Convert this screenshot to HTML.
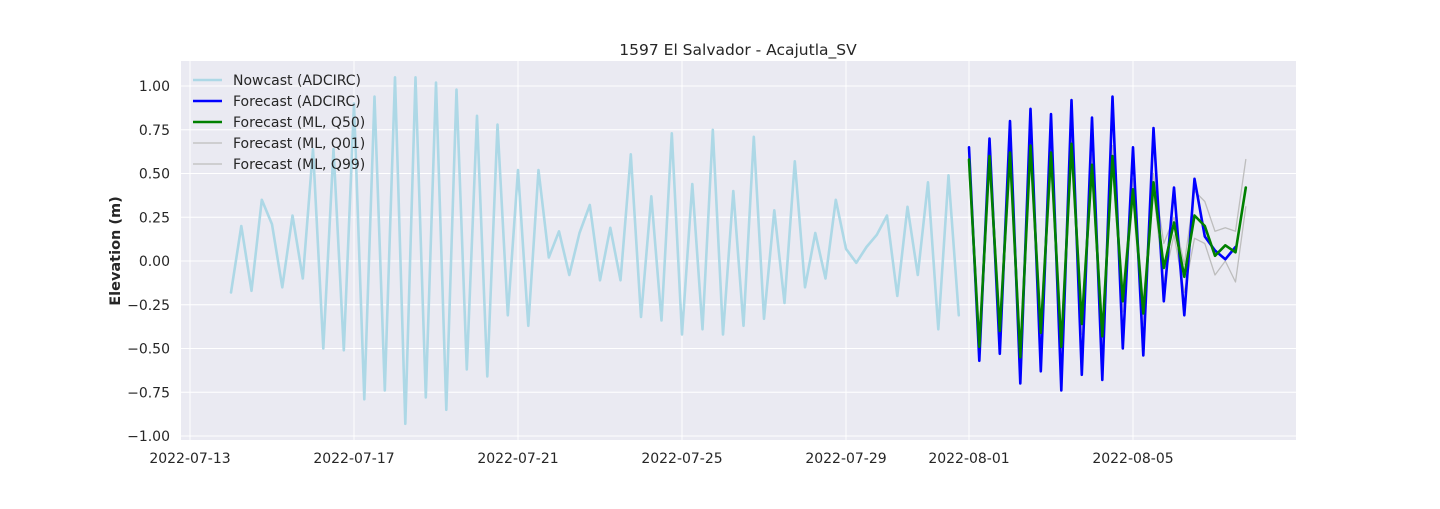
<!DOCTYPE html>
<html><head><meta charset="utf-8"><style>
body{margin:0;background:#fff;}
svg text{font-family:"DejaVu Sans","Liberation Sans",sans-serif;fill:#262626;}
</style></head><body>
<svg id="chart" width="1440" height="504" xmlns="http://www.w3.org/2000/svg">
<rect x="181" y="61" width="1115" height="379" fill="#eaeaf2"/>
<g id="grid"></g><g id="series"></g><g id="ticks"></g>
<text x="738" y="55" font-size="15.5" text-anchor="middle">1597 El Salvador - Acajutla_SV</text>
<text transform="translate(120,251) rotate(-90)" font-size="14.5" font-weight="bold" text-anchor="middle">Elevation (m)</text>
<g id="legend"></g>
</svg>
<script>
const yTicks=[1.0,0.75,0.5,0.25,0.0,-0.25,-0.5,-0.75,-1.0];
const yTickLabels=["1.00","0.75","0.50","0.25","0.00","−0.25","−0.50","−0.75","−1.00"];
const xTickDays=[13,17,21,25,29,32,36];
const xTickLabels=["2022-07-13","2022-07-17","2022-07-21","2022-07-25","2022-07-29","2022-08-01","2022-08-05"];
const nowcastStart=14.0;
const forecastStart=32.0;
const stepDays=0.25;
const nowcast=[-0.18,0.20,-0.17,0.35,0.21,-0.15,0.26,-0.10,0.64,-0.50,0.64,-0.51,0.90,-0.79,0.94,-0.74,1.05,-0.93,1.05,-0.78,1.02,-0.85,0.98,-0.62,0.83,-0.66,0.78,-0.31,0.52,-0.37,0.52,0.02,0.17,-0.08,0.16,0.32,-0.11,0.19,-0.11,0.61,-0.32,0.37,-0.34,0.73,-0.42,0.44,-0.39,0.75,-0.42,0.40,-0.37,0.71,-0.33,0.29,-0.24,0.57,-0.15,0.16,-0.10,0.35,0.07,-0.01,0.08,0.15,0.26,-0.20,0.31,-0.08,0.45,-0.39,0.49,-0.31];
const forecastAdcirc=[0.65,-0.57,0.70,-0.53,0.80,-0.70,0.87,-0.63,0.84,-0.74,0.92,-0.65,0.82,-0.68,0.94,-0.50,0.65,-0.54,0.76,-0.23,0.42,-0.31,0.47,0.14,0.06,0.01,0.08];
const forecastQ50=[0.58,-0.49,0.60,-0.40,0.62,-0.55,0.66,-0.41,0.62,-0.49,0.67,-0.36,0.55,-0.43,0.60,-0.23,0.41,-0.30,0.45,-0.04,0.22,-0.09,0.26,0.20,0.03,0.09,0.05,0.42];
const forecastQ01=[0.52,-0.55,0.54,-0.46,0.56,-0.60,0.60,-0.47,0.56,-0.55,0.61,-0.42,0.49,-0.49,0.54,-0.29,0.35,-0.36,0.40,-0.12,0.15,-0.18,0.13,0.10,-0.08,0.00,-0.12,0.31];
const forecastQ99=[0.63,-0.43,0.66,-0.34,0.68,-0.49,0.72,-0.35,0.68,-0.43,0.73,-0.30,0.61,-0.37,0.66,-0.17,0.47,-0.24,0.50,0.10,0.25,-0.02,0.40,0.34,0.17,0.19,0.17,0.58];

const NS="http://www.w3.org/2000/svg";
const X=d=>190+(d-13)*41;
const Y=v=>261-v*175;
function mk(tag,attrs,parent){const e=document.createElementNS(NS,tag);for(const k in attrs)e.setAttribute(k,attrs[k]);document.getElementById(parent).appendChild(e);return e;}
yTicks.forEach((v,i)=>{
  const l=mk('line',{x1:181,x2:1296,y1:Y(v),y2:Y(v),stroke:'#fff','stroke-width':1},'grid');
  
  
  const t=mk('text',{x:170,y:Y(v)+5,'font-size':14,'text-anchor':'end'},'ticks');
  t.textContent=yTickLabels[i];
  
  
});
xTickDays.forEach((d,i)=>{
  const l=mk('line',{x1:X(d),x2:X(d),y1:61,y2:440,stroke:'#fff','stroke-width':1},'grid');
  
  
  const t=mk('text',{x:X(d),y:463,'font-size':14,'text-anchor':'middle'},'ticks');
  t.textContent=xTickLabels[i];
  
  
});
function line(arr,start,color,w,name){
  const pts=arr.map((v,i)=>X(start+i*stepDays).toFixed(1)+','+Y(v).toFixed(1)).join(' ');
  const p=mk('polyline',{points:pts,fill:'none',stroke:color,'stroke-width':w,'stroke-linejoin':'round','stroke-linecap':'round'},'series');
  
  
}
line(nowcast,nowcastStart,'#add8e6',2.6,'nowcast-adcirc-line');
line(forecastQ01,forecastStart,'#bdbdbd',1.3,'forecast-ml-q01-line');
line(forecastQ99,forecastStart,'#bdbdbd',1.3,'forecast-ml-q99-line');
line(forecastAdcirc,forecastStart,'#0000ff',2.6,'forecast-adcirc-line');
line(forecastQ50,forecastStart,'#008000',2.6,'forecast-ml-q50-line');
const leg=[['Nowcast (ADCIRC)','#add8e6',2.6],['Forecast (ADCIRC)','#0000ff',2.6],['Forecast (ML, Q50)','#008000',2.6],['Forecast (ML, Q01)','#bdbdbd',1.3],['Forecast (ML, Q99)','#bdbdbd',1.3]];
leg.forEach((e,i)=>{
  const y=80+i*21;
  const l=mk('line',{x1:193,x2:222,y1:y,y2:y,stroke:e[1],'stroke-width':e[2]},'legend');
  
  
  const t=mk('text',{x:233,y:y+5,'font-size':14},'legend');
  t.textContent=e[0];
  
  
});
</script>
</body></html>
